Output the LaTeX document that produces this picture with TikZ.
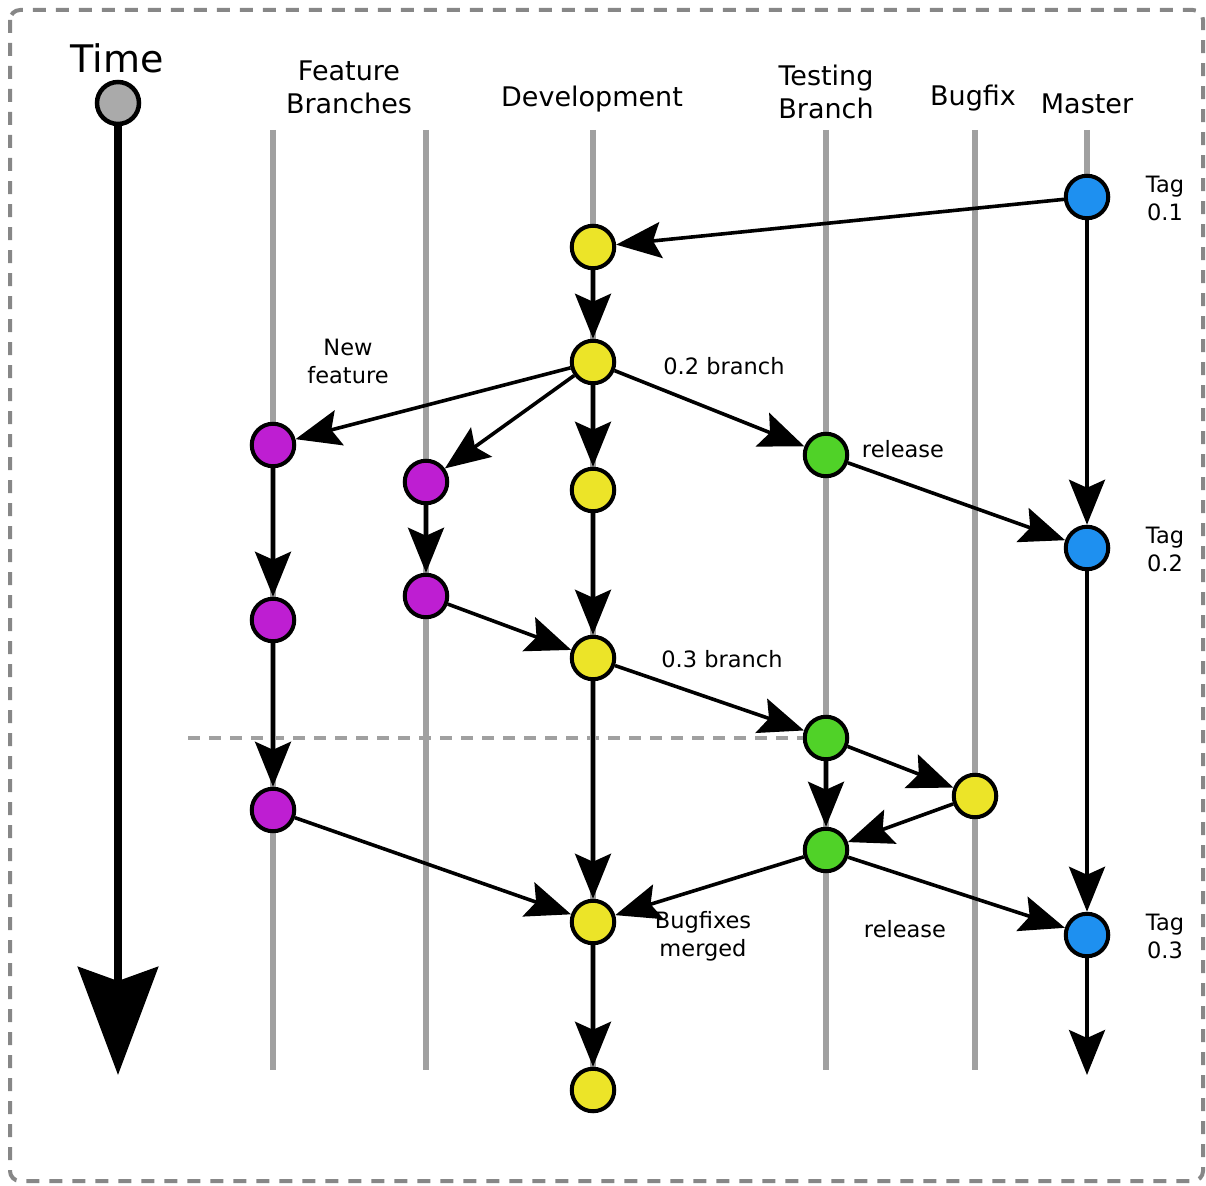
\documentclass[tikz,border=0pt]{standalone}
\usepackage{fontspec}
\setmainfont{DejaVu Sans}
\usetikzlibrary{arrows.meta}
\definecolor{cblue}{RGB}{30,144,240}
\definecolor{cyellow}{RGB}{236,228,40}
\definecolor{cpurple}{RGB}{190,30,210}
\definecolor{cgreen}{RGB}{80,210,40}
\definecolor{cgray}{RGB}{170,170,170}
\definecolor{lanegray}{RGB}{160,160,160}
\definecolor{bordergray}{RGB}{135,135,135}
\begin{document}
\begin{tikzpicture}[x=1pt,y=-1pt,
  commit/.style={circle, draw=black, line width=4pt, minimum size=42.5pt, inner sep=0pt},
  dev/.style={commit, fill=cyellow},
  feat/.style={commit, fill=cpurple},
  test/.style={commit, fill=cgreen},
  mast/.style={commit, fill=cblue},
  flow/.style={line width=3.6pt, -{Stealth[length=45pt,width=36pt,inset=8pt]}},
  lane/.style={line width=6.5pt, draw=lanegray},
  hdr/.style={font=\fontsize{27}{33}\selectfont, align=center, inner sep=0pt},
  lbl/.style={font=\fontsize{22.5}{28}\selectfont, align=center, inner sep=0pt},
  timelbl/.style={font=\fontsize{38}{44}\selectfont, inner sep=0pt}
]
\useasboundingbox (0,0) rectangle (1206,1185);
% frame
\draw[bordergray, line width=4pt, dash pattern=on 13pt off 10pt, rounded corners=10pt] (10,10) rectangle (1203,1181);

% lanes
\foreach \x in {273,426,593,826,975} {
  \draw[lane] (\x,130) -- (\x,1070);
}
\draw[lane] (1087,130) -- (1087,197);

% headers
\node[timelbl] (ttime) at (117,58) {Time};
\node[hdr] (hfeat) at (349,87) {Feature\\Branches};
\node[hdr] (hdev) at (592,99) {Development};
\node[hdr] (htest) at (826,92) {Testing\\Branch};
\node[hdr] (hbug) at (973,98) {Bugfix};
\node[hdr] (hmas) at (1087,104) {Master};

% time arrow
\node[circle, draw=black, fill=cgray, line width=4.5pt, minimum size=42pt, inner sep=0pt] (tc) at (118,103) {};
\coordinate (tend) at (118,1075);
\draw[line width=8pt, -{Stealth[length=108pt,width=80pt,inset=14pt]}] (tc) -- (tend);

% commits
\node[mast] (M1) at (1087,197) {};
\node[dev] (D1) at (593,247) {};
\node[dev] (D2) at (593,362) {};
\node[feat] (F1) at (273,445) {};
\node[feat] (F2) at (426,482) {};
\node[dev] (D3) at (593,490) {};
\node[test] (T1) at (826,455) {};
\node[mast] (M2) at (1087,548) {};
\node[feat] (F1b) at (273,620) {};
\node[feat] (F2b) at (426,596) {};
\node[dev] (D4) at (593,658) {};
\node[test] (T2) at (826,738) {};
\node[dev] (B1) at (975,796) {};
\node[test] (T3) at (826,850) {};
\node[feat] (F1c) at (273,810) {};
\node[dev] (D5) at (593,922) {};
\node[mast] (M3) at (1087,935) {};
\node[dev] (D6) at (593,1090) {};
\coordinate (mend) at (1087,1075);
\coordinate (dstart) at (188,738);

% dashed separator
\draw[lanegray, line width=4.5pt, dash pattern=on 12pt off 9pt] (dstart) -- (T2.west);

% connectors
\draw[flow] (M1) -- (D1);
\draw[flow] (D1) -- (D2);
\draw[flow] (D2) -- (F1);
\draw[flow] (D2) -- (F2);
\draw[flow] (D2) -- (D3);
\draw[flow] (D2) -- (T1);
\draw[flow] (F1) -- (F1b);
\draw[flow] (F2) -- (F2b);
\draw[flow] (D3) -- (D4);
\draw[flow] (F2b) -- (D4);
\draw[flow] (T1) -- (M2);
\draw[flow] (M1) -- (M2);
\draw[flow] (F1b) -- (F1c);
\draw[flow] (D4) -- (T2);
\draw[flow] (D4) -- (D5);
\draw[flow] (T2) -- (T3);
\draw[flow] (T2) -- (B1);
\draw[flow] (B1) -- (T3);
\draw[flow] (T3) -- (D5);
\draw[flow] (T3) -- (M3);
\draw[flow] (F1c) -- (D5);
\draw[flow] (M2) -- (M3);
\draw[flow] (D5) -- (D6);
\draw[flow] (M3) -- (mend);

% labels
\node[lbl] (tag1) at (1165,198) {Tag\\0.1};
\node[lbl] (tag2) at (1165,549) {Tag\\0.2};
\node[lbl] (tag3) at (1165,936) {Tag\\0.3};
\node[lbl] (lnew) at (348,361) {New\\feature};
\node[lbl] (l02) at (724,366) {0.2 branch};
\node[lbl] (lrel1) at (903,449) {release};
\node[lbl] (l03) at (722,659) {0.3 branch};
\node[lbl] (lbug) at (703,936) {Bugfixes\\merged};
\node[lbl] (lrel2) at (905,929) {release};
\end{tikzpicture}
\end{document}
